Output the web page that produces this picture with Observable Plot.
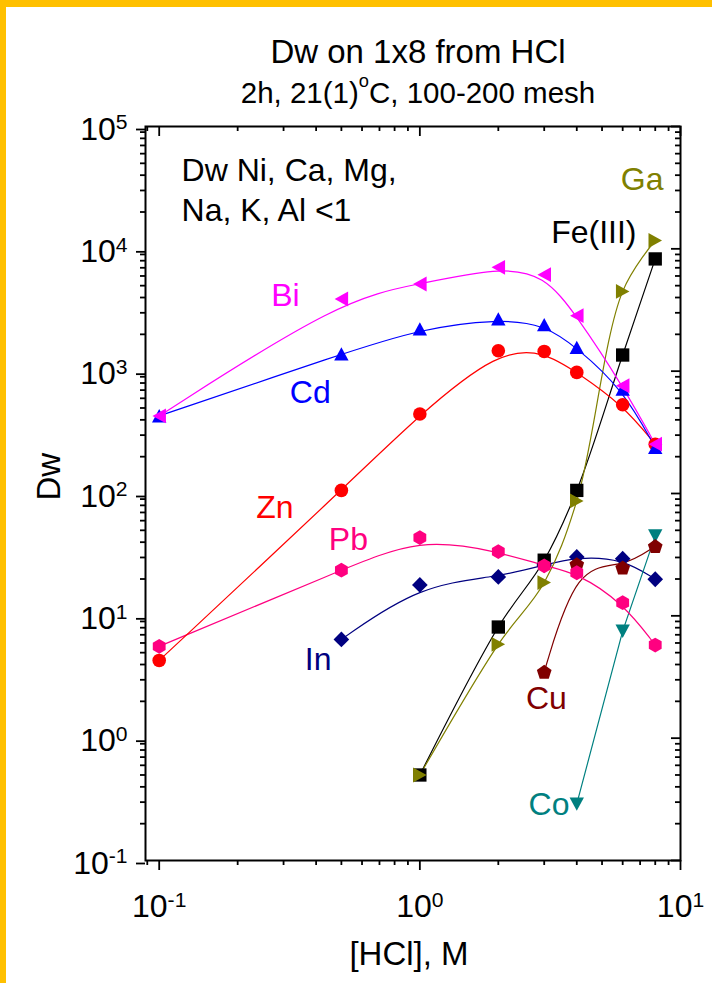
<!DOCTYPE html>
<html>
<head>
<meta charset="utf-8">
<script src="https://cdn.jsdelivr.net/npm/d3@7"></script>
<script src="https://cdn.jsdelivr.net/npm/@observablehq/plot@0.6"></script>
<style>
  body { margin: 0; background: #fff; }
  #figure {
    position: relative; width: 712px; height: 983px; overflow: hidden;
    background: #fff; color: #000;
    font-family: "Liberation Sans", Arial, Helvetica, sans-serif;
  }
  .edge { position: absolute; background: #FFC000; z-index: 5; }
  .edge.top { left: 0; top: 0; width: 712px; height: 7px; }
  .edge.left { left: 0; top: 0; width: 6px; height: 983px; }
  .title {
    position: absolute; left: 118px; width: 600px; text-align: center;
    white-space: nowrap; line-height: 1;
  }
  #title { top: 35px; font-size: 33px; }
  #subtitle { top: 78px; font-size: 29.5px; }
  #subtitle .deg { font-size: 0.62em; position: relative; top: -0.85em; }
  #plot { position: absolute; left: 0; top: 110px; }
</style>
</head>
<body>
<div id="figure">
  <div class="title" id="title">Dw on 1x8 from HCl</div>
  <div class="title" id="subtitle">2h, 21(1)<span class="deg">o</span>C, 100-200 mesh</div>
  <div id="plot"></div>
  <div class="edge top"></div>
  <div class="edge left"></div>
</div>
<script>
// HCl concentrations (M) at which Dw was measured
const hcl = [0.1, 0.5, 1, 2, 3, 4, 6, 8];

// Distribution coefficients per element (null = not measured)
const dwBi = [431, 3890, 5160, 7060, 6150, 2840, 760, 253];
const dwCd = [431, 1380, 2210, 2670, 2400, 1563, 713, 238];
const dwZn = [4.32, 106, 446, 1470, 1450, 977, 531, 253];
const dwPb = [5.63, 23.6, 43.6, 33.5, 25.6, 22.5, 12.8, 5.77];
const dwIn = [null, 6.42, 17.9, 20.8, 26, 30.3, 29.3, 19.9];
const dwFe = [null, null, 0.5, 8.1, 28.5, 106, 1355, 8270];
const dwGa = [null, null, 0.5, 5.85, 18.7, 87, 4490, 11700];
const dwCu = [null, null, null, null, 3.49, 26.4, 24.8, 37.2];
const dwCo = [null, null, null, null, null, 0.29, 7.5, 45];

// Element labels placed next to their curves
const labelText = ["Bi", "Cd", "Zn", "Pb", "In", "Cu", "Co", "Ga", "Fe(III)"];
const labelHcl  = [0.305, 0.380, 0.278, 0.532, 0.407, 3.06, 3.13, 7.13, 4.65];
const labelDw   = [4156, 663, 76.1, 42.1, 4.36, 2.11, 0.287, 36900, 13480];

// Note about elements that are not retained
const noteText = ["Dw Ni, Ca, Mg,", "Na, K, Al <1"];
const noteHcl  = [0.1218, 0.1218];
const noteDw   = [43700, 20590];

// Axis ticks
const xMajor = [0.1, 1, 10];
const xMinor = [0.09, 0.2, 0.3, 0.4, 0.5, 0.6, 0.7, 0.8, 0.9, 2, 3, 4, 5, 6, 7, 8, 9];
const yMajor = [0.1, 1, 10, 100, 1000, 10000, 100000];
const yMinor = [-1, 0, 1, 2, 3, 4].flatMap(k => [2, 3, 4, 5, 6, 7, 8, 9].map(m => m * 10 ** k));

// Marker shapes, drawn for a nominal radius of 7 and scaled by r
function polygon(pts) {
  return {
    draw(ctx, size) {
      const s = Math.sqrt(size / Math.PI) / 7;
      ctx.moveTo(pts[0][0] * s, pts[0][1] * s);
      for (let i = 1; i < pts.length; ++i) ctx.lineTo(pts[i][0] * s, pts[i][1] * s);
      ctx.closePath();
    }
  };
}
const triLeft = polygon([[-6.4, 0], [6.4, -7], [6.4, 7]]);
const triRight = polygon([[6.4, 0], [-6.4, -7], [-6.4, 7]]);
const triUp = polygon([[0, -6.4], [6.8, 6.2], [-6.8, 6.2]]);
const triDown = polygon([[0, 6.4], [6.8, -6.2], [-6.8, -6.2]]);
const square = polygon([[-6.3, -6.3], [6.3, -6.3], [6.3, 6.3], [-6.3, 6.3]]);
const diamond = polygon([[0, -7.5], [7.4, 0], [0, 7.5], [-7.4, 0]]);
const hexagon = polygon(d3.range(6).map(i => [7 * Math.cos(-Math.PI / 2 + i * Math.PI / 3), 7 * Math.sin(-Math.PI / 2 + i * Math.PI / 3)]));
const pentagon = polygon(d3.range(5).map(i => [7.3 * Math.cos(-Math.PI / 2 + i * 2 * Math.PI / 5), 0.7 + 7.3 * Math.sin(-Math.PI / 2 + i * 2 * Math.PI / 5)]));

// Series in drawing order, with their look
const series = [
  {name: "In", values: dwIn, color: "#000080", symbol: diamond, curve: "basis"},
  {name: "Fe(III)", values: dwFe, color: "#000000", symbol: square, curve: "catmull-rom"},
  {name: "Ga", values: dwGa, color: "#808000", symbol: triRight, curve: "catmull-rom"},
  {name: "Co", values: dwCo, color: "#008080", symbol: triDown, curve: "linear"},
  {name: "Cu", values: dwCu, color: "#800000", symbol: pentagon, curve: "basis"},
  {name: "Pb", values: dwPb, color: "#FF0080", symbol: hexagon, curve: "basis"},
  {name: "Zn", values: dwZn, color: "#FF0000", symbol: "circle", curve: "basis"},
  {name: "Cd", values: dwCd, color: "#0000FF", symbol: triUp, curve: "basis"},
  {name: "Bi", values: dwBi, color: "#FF00FF", symbol: triLeft, curve: "basis"}
];
const rowsOf = s => hcl.map((x, i) => ({x, y: s.values[i]})).filter(d => d.y != null);

const labelRows = labelText.map((t, i) => ({t, x: labelHcl[i], y: labelDw[i]}));
const labelColor = {Bi: "#FF00FF", Cd: "#0000FF", Zn: "#FF0000", Pb: "#FF0080", In: "#000080", Cu: "#800000", Co: "#008080", Ga: "#808000", "Fe(III)": "#000000"};
const noteRows = noteText.map((t, i) => ({t, x: noteHcl[i], y: noteDw[i]}));

const W = 712, H = 873;
const mL = 145, mR = 32, mT = 16, mB = 123;
const frameW = W - mL - mR, frameH = H - mT - mB;
const expFormat = d => String(Math.round(Math.log10(d)));
const FS = 32;

const chart = Plot.plot({
  width: W, height: H,
  marginLeft: mL, marginRight: mR, marginTop: mT, marginBottom: mB,
  style: {background: "transparent", color: "#000", fontFamily: "'Liberation Sans', Arial, sans-serif", overflow: "visible"},
  x: {type: "log", domain: [0.0886, 10]},
  y: {type: "log", domain: [0.1, 100000]},
  marks: [
    // curves
    ...series.map(s => Plot.line(rowsOf(s), {x: "x", y: "y", stroke: s.color, strokeWidth: 1.2, curve: s.curve})),
    // markers
    ...series.map(s => Plot.dot(rowsOf(s), {x: "x", y: "y", r: s.symbol === "circle" ? 6.8 : 7.4, symbol: s.symbol, fill: s.color, stroke: "none"})),
    // element labels
    Plot.text(labelRows, {x: "x", y: "y", text: "t", fill: d => labelColor[d.t], fontSize: FS, textAnchor: "middle"}),
    Plot.text(noteRows, {x: "x", y: "y", text: "t", fill: "#000", fontSize: FS, textAnchor: "start"}),
    // frame and mirrored inward ticks on top and right
    Plot.frame({stroke: "#000", strokeWidth: 2}),
    Plot.ruleX(xMajor, {x: d => d, insetBottom: frameH - 10, stroke: "#000", strokeWidth: 1.8}),
    Plot.ruleX(xMinor, {x: d => d, insetBottom: frameH - 5, stroke: "#000", strokeWidth: 1.8}),
    Plot.ruleY(yMajor, {y: d => d, insetLeft: frameW - 9, stroke: "#000", strokeWidth: 1.8}),
    Plot.ruleY(yMinor, {y: d => d, insetLeft: frameW - 5, stroke: "#000", strokeWidth: 1.8}),
    // bottom and left axes with outward ticks
    Plot.axisX({ticks: xMinor, tickSize: 5, tickFormat: () => "", label: null, strokeWidth: 1.8}),
    Plot.axisX({ticks: xMajor, tickSize: 10, tickPadding: 24, tickFormat: expFormat, fontSize: FS, label: null, strokeWidth: 1.8}),
    Plot.axisY({ticks: yMinor, tickSize: 5, tickFormat: () => "", label: null, strokeWidth: 1.8}),
    Plot.axisY({ticks: yMajor, tickSize: 9, tickPadding: 9, tickFormat: expFormat, fontSize: FS, label: null, strokeWidth: 1.8, dy: 3}),
    // axis titles
    Plot.text(["[HCl], M"], {frameAnchor: "bottom", text: d => d, dy: 104, dx: -4, lineAnchor: "bottom", fontSize: 33}),
    Plot.text(["Dw"], {frameAnchor: "left", text: d => d, rotate: -90, dx: -86, dy: 7, lineAnchor: "bottom", fontSize: 33})
  ]
});

// Render tick labels as powers of ten: "10" followed by a raised exponent
const NS = "http://www.w3.org/2000/svg";
chart.querySelectorAll('g[aria-label="x-axis tick label"] text, g[aria-label="y-axis tick label"] text').forEach(t => {
  const e = t.textContent;
  if (!e) return;
  t.textContent = "10";
  const sup = document.createElementNS(NS, "tspan");
  sup.setAttribute("font-size", "0.66em");
  sup.setAttribute("dy", "-0.5em");
  sup.textContent = e;
  t.appendChild(sup);
});

document.getElementById("plot").appendChild(chart);
</script>
</body>
</html>
